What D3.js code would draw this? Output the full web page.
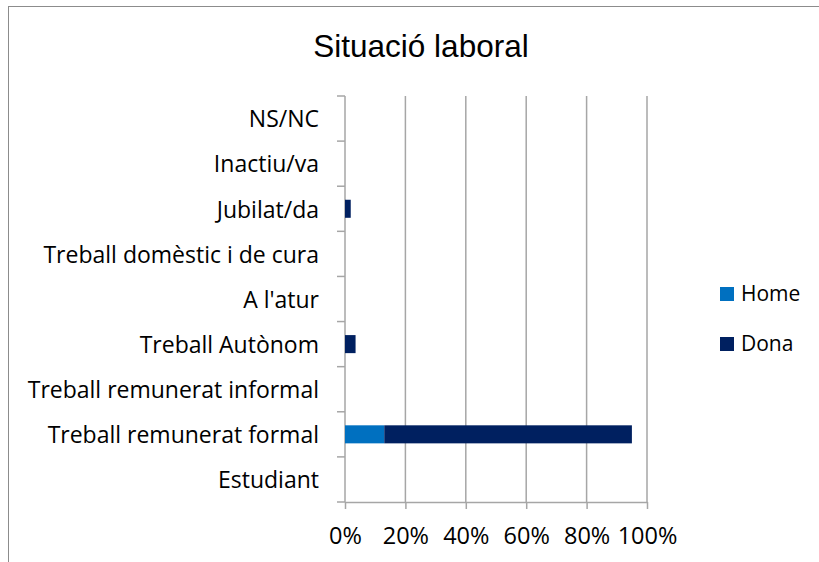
<!DOCTYPE html>
<html>
<head>
<meta charset="utf-8">
<script src="https://cdn.jsdelivr.net/npm/d3@7"></script>
<style>
  body { margin: 0; background: #fff; }
  svg { display: block; }
</style>
</head>
<body>
<div id="chart"></div>
<script>
//data
var categories = ['NS/NC', 'Inactiu/va', 'Jubilat/da', 'Treball domèstic i de cura', "A l'atur",
    'Treball Autònom', 'Treball remunerat informal', 'Treball remunerat formal', 'Estudiant'];
var seriesNames = ['Home', 'Dona'];
var homeValues = [0, 0, 0, 0, 0, 0, 0, 0.13, 0];
var donaValues = [0, 0, 0.019, 0, 0, 0.035, 0, 0.82, 0];
var xTicks = [0, 0.2, 0.4, 0.6, 0.8, 1];

var colors = { Home: '#0070C0', Dona: '#002060' };

//sizes
var outerW = 819,
    outerH = 562;
var margin = { left: 345, right: 172, top: 96, bottom: 60 };
var w = outerW - margin.left - margin.right,
    h = outerH - margin.top - margin.bottom;

var labelFont = '"Open Sans", "Noto Sans", sans-serif';

var svg = d3.select('#chart').append('svg')
    .attr('width', outerW)
    .attr('height', outerH);

//chart border
svg.append('rect')
    .attr('x', 8.5)
    .attr('y', 6.5)
    .attr('width', outerW + 20)
    .attr('height', outerH + 20)
    .attr('fill', 'none')
    .attr('stroke', '#8c8c8c')
    .attr('stroke-width', 1);

svg.append('text')
    .attr('x', 421)
    .attr('y', 57)
    .attr('text-anchor', 'middle')
    .attr('font-family', '"Liberation Sans", Arial, sans-serif')
    .attr('font-size', 31.5)
    .attr('fill', '#000')
    .text('Situació laboral');

var g = svg.append('g')
    .attr('transform', 'translate(' + margin.left + ',' + margin.top + ')');

var xScale = d3.scaleLinear().domain([0, 1]).range([0, w]);
var yScale = d3.scaleBand().domain(categories).range([0, h]).paddingInner(0.6).paddingOuter(0.3);
var yBand = d3.scaleBand().domain(categories).range([0, h]);

//stack
var rows = categories.map(function(c, i) {
    return { cat: c, Home: homeValues[i], Dona: donaValues[i] };
});
var stacked = d3.stack().keys(seriesNames)(rows);

//gridlines
g.selectAll('.grid')
    .data(xTicks.slice(1))
    .enter()
    .append('line')
    .attr('class', 'grid')
    .attr('x1', function(d) { return xScale(d); })
    .attr('x2', function(d) { return xScale(d); })
    .attr('y1', 0)
    .attr('y2', h)
    .attr('stroke', '#a6a6a6')
    .attr('stroke-width', 1.5);

//x axis
var xAxis = d3.axisBottom(xScale)
    .tickValues(xTicks)
    .tickSize(7)
    .tickSizeOuter(0)
    .tickPadding(18)
    .tickFormat(d3.format('.0%'));

var xAxisG = g.append('g')
    .attr('transform', 'translate(0,' + h + ')')
    .call(xAxis);
xAxisG.select('.domain').attr('stroke', '#a6a6a6').attr('stroke-width', 1.5);
xAxisG.selectAll('.tick line').attr('stroke', '#a6a6a6').attr('stroke-width', 1.5);
xAxisG.selectAll('.tick text')
    .attr('font-family', labelFont)
    .attr('font-size', 23.5)
    .attr('fill', '#000');

//y axis: ticks at band boundaries
g.append('line')
    .attr('x1', 0).attr('x2', 0)
    .attr('y1', 0).attr('y2', h)
    .attr('stroke', '#a6a6a6')
    .attr('stroke-width', 1.5);

var boundaries = categories.map(function(c) { return yBand(c); }).concat([h]);
g.selectAll('.y-tick')
    .data(boundaries)
    .enter()
    .append('line')
    .attr('class', 'y-tick')
    .attr('x1', -8).attr('x2', 0)
    .attr('y1', function(d) { return d; })
    .attr('y2', function(d) { return d; })
    .attr('stroke', '#a6a6a6')
    .attr('stroke-width', 1.5);

g.selectAll('.y-label')
    .data(categories)
    .enter()
    .append('text')
    .attr('class', 'y-label')
    .attr('x', -26)
    .attr('y', function(d) { return yBand(d) + yBand.bandwidth() / 2; })
    .attr('dy', '0.38em')
    .attr('text-anchor', 'end')
    .attr('font-family', labelFont)
    .attr('font-size', 23)
    .attr('fill', '#000')
    .text(function(d) { return d; });

//bars
g.selectAll('.series')
    .data(stacked)
    .enter()
    .append('g')
    .attr('class', 'series')
    .attr('fill', function(d) { return colors[d.key]; })
    .selectAll('rect')
    .data(function(d) { return d; })
    .enter()
    .append('rect')
    .attr('x', function(d) { return xScale(d[0]); })
    .attr('y', function(d) { return yScale(d.data.cat); })
    .attr('width', function(d) { return xScale(d[1]) - xScale(d[0]); })
    .attr('height', yScale.bandwidth());

//legend
var legend = svg.selectAll('.legend')
    .data(seriesNames)
    .enter()
    .append('g')
    .attr('class', 'legend')
    .attr('transform', function(d, i) { return 'translate(720,' + (287 + i * 50) + ')'; });

legend.append('rect')
    .attr('width', 14)
    .attr('height', 14)
    .attr('fill', function(d) { return colors[d]; });

legend.append('text')
    .attr('x', 21)
    .attr('y', 7)
    .attr('dy', '0.35em')
    .attr('font-family', labelFont)
    .attr('font-size', 21)
    .attr('fill', '#000')
    .text(function(d) { return d; });
</script>
</body>
</html>
